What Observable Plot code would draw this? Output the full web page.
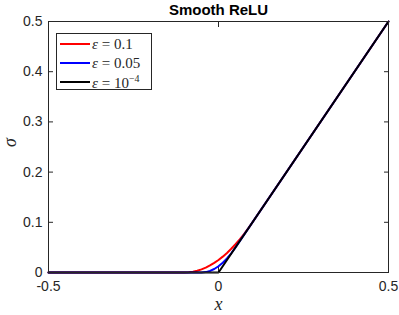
<!DOCTYPE html>
<html><head><meta charset="utf-8">
<script src="https://cdn.jsdelivr.net/npm/d3@7"></script>
<script src="https://cdn.jsdelivr.net/npm/@observablehq/plot@0.6"></script>
<style>
body{margin:0;background:#fff;}
#wrap{position:relative;width:399px;height:315px;}
#legend{position:absolute;left:56px;top:33px;width:96px;height:57px;border:1px solid #262626;background:#fff;box-sizing:border-box;font-family:"Liberation Serif","DejaVu Serif",serif;font-size:15px;color:#262626;}
.row{position:absolute;left:3px;height:18px;display:flex;align-items:center;white-space:nowrap;}
.sw{width:30px;height:2px;margin-right:2px;}
</style></head>
<body><div id="wrap"></div>
<script>
const xTicks = [-0.5, 0, 0.5];
const yTicks = [0, 0.1, 0.2, 0.3, 0.4, 0.5];
const seriesNames = ["ε = 0.1", "ε = 0.05", "ε = 10^-4"];
const seriesColors = ["#ff0000", "#0000ff", "#000000"];
const x1 = [-0.5, -0.1, -0.0875, -0.075, -0.0625, -0.05, -0.0375, -0.025, -0.0125, 0, 0.0125, 0.025, 0.0375, 0.05, 0.0625, 0.075, 0.0875, 0.1, 0.5];
const y1 = [0, 0, 0.0004, 0.0016, 0.0035, 0.0063, 0.0098, 0.014, 0.0191, 0.025, 0.0316, 0.039, 0.0473, 0.0563, 0.066, 0.0766, 0.0879, 0.1, 0.5];
const x2 = [-0.5, -0.05, -0.0375, -0.025, -0.0125, 0, 0.0125, 0.025, 0.0375, 0.05, 0.5];
const y2 = [0, 0, 0.0008, 0.0031, 0.007, 0.0125, 0.0195, 0.0281, 0.0383, 0.05, 0.5];
const x3 = [-0.5, 0, 0.5];
const y3 = [0, 0, 0.5];

const sets = [[x1, y1], [x2, y2], [x3, y3]];
const data = sets.flatMap(([xs, ys], i) => xs.map((x, j) => ({x, y: ys[j], s: seriesNames[i]})));

const font = "Liberation Sans, Arial, sans-serif";
const chart = Plot.plot({
  width: 399, height: 315,
  marginLeft: 48, marginRight: 11, marginTop: 21, marginBottom: 43,
  style: {fontFamily: font, fontSize: "14px", color: "#262626", background: "#fff"},
  x: {domain: [-0.5, 0.5], ticks: xTicks, label: null},
  y: {domain: [0, 0.5], ticks: yTicks, label: null},
  color: {domain: seriesNames, range: seriesColors},
  marks: [
    Plot.axisX({ticks: xTicks, tickSize: -5, tickPadding: 14, tickFormat: d => d === 0 ? "0" : String(d), label: null}),
    Plot.axisX({anchor: "top", ticks: xTicks, tickSize: -5, tickFormat: () => "", label: null}),
    Plot.axisY({ticks: yTicks, tickSize: -5, tickPadding: 11, tickFormat: d => d === 0 ? "0" : String(d), label: null}),
    Plot.axisY({anchor: "right", ticks: yTicks, tickSize: -5, tickFormat: () => "", label: null}),
    Plot.line(data, {x: "x", y: "y", z: "s", stroke: "s", strokeWidth: 2, curve: "linear"}),
    Plot.frame({stroke: "#262626", strokeWidth: 1}),
    Plot.text(["Smooth ReLU"], {frameAnchor: "top", lineAnchor: "middle", dy: -11, fontWeight: "bold", fontSize: 15, fill: "#000"}),
    Plot.text(["x"], {frameAnchor: "bottom", lineAnchor: "middle", dy: 32, fontStyle: "italic", fontFamily: "Liberation Serif, serif", fontSize: 18, fill: "#262626"}),
    Plot.text(["σ"], {frameAnchor: "left", dx: -38, rotate: -90, fontStyle: "italic", fontFamily: "Liberation Serif, serif", fontSize: 18, fill: "#262626"})
  ]
});
const wrap = document.getElementById("wrap");
wrap.appendChild(chart);
const leg = document.createElement("div");
leg.id = "legend";
seriesNames.forEach((n, i) => {
  const r = document.createElement("div");
  r.className = "row";
  r.style.top = (1 + i * 19) + "px";
  const sw = document.createElement("div");
  sw.className = "sw"; sw.style.background = seriesColors[i];
  r.appendChild(sw);
  const t = document.createElement("span");
  const parts = n.split(" = ");
  let val = parts[1];
  let html = "<i>ε</i> = ";
  if (val.includes("^")) { const [b, e] = val.split("^"); html += b + "<sup style='font-size:10px;'>" + e.replace("-", "−") + "</sup>"; }
  else html += val;
  t.innerHTML = html;
  r.appendChild(t);
  leg.appendChild(r);
});
wrap.appendChild(leg);
</script></body></html>
